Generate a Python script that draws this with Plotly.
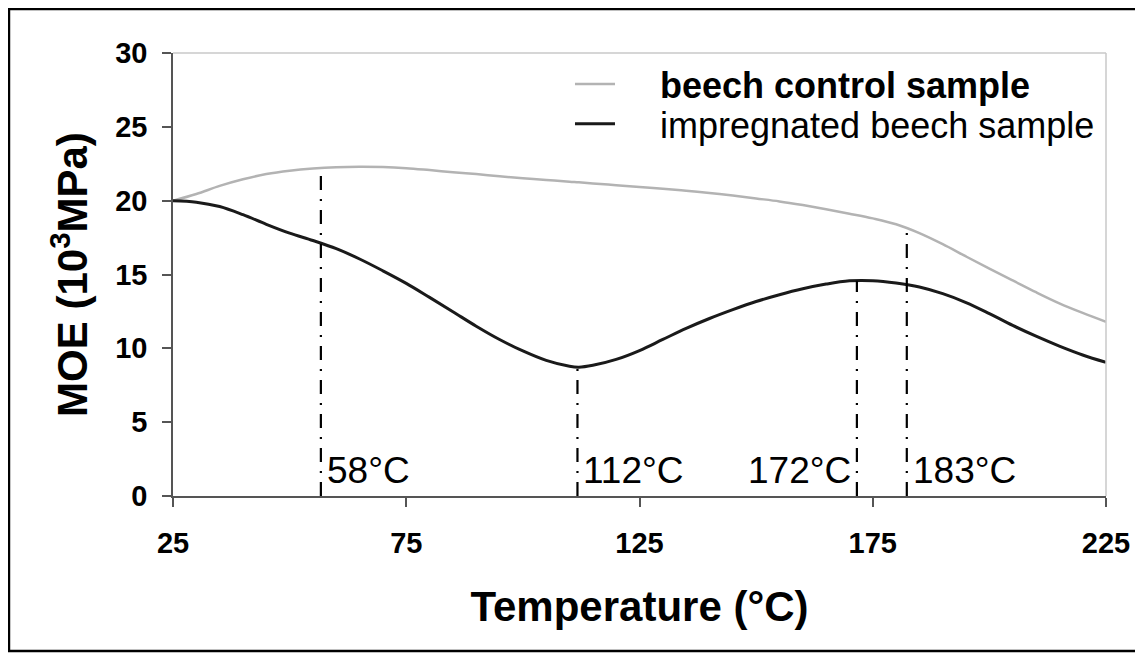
import plotly.graph_objects as go

# ---- data ----
temperature = [25, 30, 35, 40, 45, 50, 55, 60, 65, 70, 75, 80, 85, 90, 95, 100, 105, 110,
               112, 115, 120, 125, 130, 135, 140, 145, 150, 155, 160, 165, 170, 175, 180,
               185, 190, 195, 200, 205, 210, 215, 220, 225]
control = [20.0, 20.45, 21.0, 21.45, 21.8, 22.03, 22.18, 22.27, 22.3, 22.28, 22.2, 22.07,
           21.93, 21.8, 21.65, 21.52, 21.4, 21.28, 21.24, 21.16, 21.05, 20.93, 20.8, 20.67,
           20.52, 20.35, 20.15, 19.95, 19.7, 19.42, 19.12, 18.8, 18.4, 17.8, 17.05, 16.22,
           15.4, 14.6, 13.8, 13.05, 12.4, 11.8]
impregnated = [20.0, 19.9, 19.6, 19.05, 18.4, 17.8, 17.3, 16.75, 16.05, 15.25, 14.4, 13.45,
               12.48, 11.5, 10.6, 9.82, 9.18, 8.78, 8.72, 8.85, 9.25, 9.85, 10.6, 11.35,
               12.02, 12.62, 13.17, 13.63, 14.03, 14.35, 14.57, 14.58, 14.42, 14.15, 13.7,
               13.1, 12.35, 11.55, 10.82, 10.15, 9.55, 9.05]

event_T = [56.7, 111.7, 171.6, 182.3]
event_top = [22.22, 8.72, 14.58, 18.15]
event_labels = ["58°C", "112°C", "172°C", "183°C"]
event_side = ["right", "right", "left", "right"]

x_ticks = [25, 75, 125, 175, 225]
y_ticks = [0, 5, 10, 15, 20, 25, 30]

FONT = "Liberation Sans, Arial, sans-serif"

fig = go.Figure()
fig.add_trace(go.Scatter(
    x=temperature, y=control, mode="lines", line=dict(color="#b3b3b3", width=2.5, shape="spline"),
    name="&nbsp;&nbsp;&nbsp;&nbsp;<b>beech control sample</b>", legend="legend"))
fig.add_trace(go.Scatter(
    x=temperature, y=impregnated, mode="lines", line=dict(color="#1a1a1a", width=3, shape="spline"),
    name="&nbsp;&nbsp;&nbsp;&nbsp;impregnated beech sample", legend="legend2"))

for t, top in zip(event_T, event_top):
    fig.add_trace(go.Scatter(
        x=[t, t], y=[0, top], mode="lines", showlegend=False, hoverinfo="skip",
        line=dict(color="black", width=2.2, dash="14px,9px,2px,9px")))

annotations = []
for t, lab, side in zip(event_T, event_labels, event_side):
    annotations.append(dict(
        x=t, y=1.7, xref="x", yref="y", text=lab, showarrow=False,
        xanchor="left" if side == "right" else "right",
        xshift=4 if side == "right" else -4, yanchor="middle",
        font=dict(family=FONT, size=37, color="black")))

shapes = [
    # light grey top and right borders of the plot area
    dict(type="line", xref="paper", yref="paper", x0=0, x1=1, y0=1, y1=1,
         line=dict(color="#c8c8c8", width=1.5)),
    dict(type="line", xref="paper", yref="paper", x0=1, x1=1, y0=0, y1=1,
         line=dict(color="#c8c8c8", width=1.5)),
    # outer black frame
    dict(type="rect", xref="paper", yref="paper", x0=-0.1758, x1=1.0375, y0=-0.35, y1=1.0993,
         line=dict(color="black", width=2.5)),
]

legend_common = dict(xanchor="left", yanchor="middle", bgcolor="rgba(0,0,0,0)",
                     itemwidth=40, font=dict(family=FONT, size=36, color="black"))

fig.update_layout(
    width=1135, height=645,
    margin=dict(l=165, r=37, t=45, b=157),
    paper_bgcolor="white", plot_bgcolor="white",
    font=dict(family=FONT, color="black"),
    showlegend=True,
    legend=dict(x=0.4255, y=0.930, **legend_common),
    legend2=dict(x=0.4255, y=0.8398, **legend_common),
    annotations=annotations,
    shapes=shapes,
)
fig.update_xaxes(
    range=[25, 225], tickmode="array", tickvals=x_ticks, ticktext=[str(v) for v in x_ticks],
    showgrid=False, zeroline=False, showline=True, linecolor="#555555", linewidth=1.5,
    ticks="outside", ticklen=9, tickcolor="#555555", tickwidth=1.5,
    tickfont=dict(family=FONT, size=29, weight="bold"), ticklabelstandoff=11,
    title=dict(text="Temperature (°C)", font=dict(family=FONT, size=42, weight="bold"), standoff=34),
)
fig.update_yaxes(
    range=[0, 30], tickmode="array", tickvals=y_ticks, ticktext=[str(v) for v in y_ticks],
    showgrid=False, zeroline=False, showline=True, linecolor="#555555", linewidth=1.5,
    ticks="outside", ticklen=9, tickcolor="#555555", tickwidth=1.5,
    tickfont=dict(family=FONT, size=29, weight="bold"), ticklabelstandoff=9,
    title=dict(text="MOE (10<sup>3</sup>MPa)", font=dict(family=FONT, size=42, weight="bold"), standoff=14),
)

fig.write_html("out.html")
